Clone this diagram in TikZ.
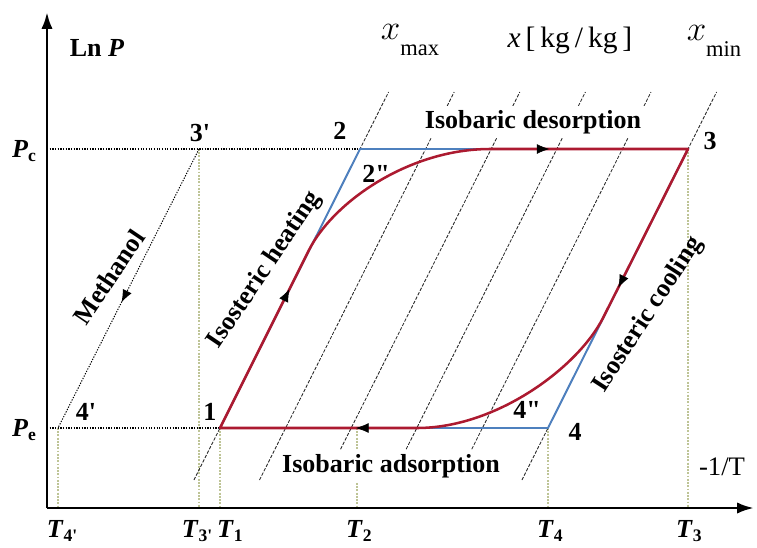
\documentclass[tikz,border=0pt]{standalone}
\usepackage{fontspec}
\setmainfont{Liberation Serif}
\usetikzlibrary{arrows.meta,decorations.markings,calc}
\definecolor{cyclered}{RGB}{172,26,48}
\definecolor{isoblue}{RGB}{78,128,190}
\definecolor{guidegreen}{RGB}{190,196,150}
\newcommand\lowsub[1]{\raisebox{-0.35ex}{\fontsize{12.5}{13}\selectfont #1}}

\begin{document}
\begin{tikzpicture}[x=0.025cm,y=-0.025cm,>=Latex,
  axis/.style={line width=2pt,-{Latex[length=12pt,width=8pt]}},
  lbl/.style={font=\fontsize{18.5}{20}\selectfont\bfseries,inner sep=1pt},
  isostere/.style={line width=0.6pt,dash pattern=on 2.4pt off 1.1pt,black!85},
  level/.style={line width=0.9pt,densely dotted},
  guide/.style={line width=1.3pt,densely dotted,guidegreen},
  blueline/.style={line width=1.4pt,isoblue},
  redline/.style={line width=1.8pt,cyclered,line join=round},
  arrowat/.style={postaction={decorate,decoration={markings,
    mark=at position #1 with {\arrow[black]{Latex[length=9pt,width=7pt]}}}}}]
  \useasboundingbox (0,0) rectangle (757,547);

  % corners of the cycle
  \coordinate (p1) at (220,428);
  \coordinate (p2) at (360,149);
  \coordinate (p3) at (688,149);
  \coordinate (p4) at (548,428);
  \coordinate (p3m) at (199,149);
  \coordinate (p4m) at (58,428);
  \coordinate (q2) at (357,428);
  % where the real cycle leaves the ideal one
  \coordinate (h1) at (309,250);
  \coordinate (d1) at (490,149);
  \coordinate (c1) at (603,318);
  \coordinate (a1) at (417,428);
  % axes
  \coordinate (o) at (47,508);
  \coordinate (ytop) at (47,12);
  \coordinate (xend) at (754,508);

  % guide lines down to the axis
  \foreach \pt in {p4m,p3m,p1,q2,p4,p3}
    \draw[guide] (\pt) -- (\pt |- o);

  % pressure levels
  \draw[level] (o |- p3) -- (p3);
  \draw[level] (o |- p1) -- (p1);

  % isosteres
  \foreach \i in {0,...,5}
    \draw[isostere] ({193.9+65.6*\i},480) -- ({388.6+65.6*\i},92);

  % methanol line
  \draw[level,line width=0.7pt,arrowat=0.55] (p3m) -- (p4m);

  % ideal cycle
  \draw[blueline] (p1) -- (p2) -- (p3) -- (p4) -- cycle;

  % real cycle
  \draw[redline] (p1) -- (h1) .. controls (334,201) and (410,149) .. (d1)
    -- (p3) -- (c1) .. controls (578,367) and (497,428) .. (a1) -- cycle;
  \path[arrowat=0.78] (p1) -- (h1);
  \path[arrowat=0.3] (d1) -- (p3);
  \path[arrowat=0.82] (p3) -- (c1);
  \path[arrowat=0.31] (a1) -- (p1);

  % axes
  \draw[axis] (o) -- (ytop);
  \draw[axis] (o) -- (xend);

  % axis labels
  \node[lbl] (lnp) at (97,48) {Ln \textit{P}};
  \node[lbl] (pc) at (24,151) {\textit{P}\lowsub{c}};
  \node[lbl] (pe) at (24,430) {\textit{P}\lowsub{e}};
  \node[font=\fontsize{19}{20}\selectfont] (invt) at (722,467) {-1/T};
  \node[lbl] (t4m) at (62,531) {\textit{T}\lowsub{4\textquotesingle}};
  \node[lbl] (t3m) at (197,531) {\textit{T}\lowsub{3\textquotesingle}};
  \node[lbl] (t1) at (230,531) {\textit{T}\lowsub{1}};
  \node[lbl] (t2) at (359,531) {\textit{T}\lowsub{2}};
  \node[lbl] (t4) at (550,531) {\textit{T}\lowsub{4}};
  \node[lbl] (t3) at (689,531) {\textit{T}\lowsub{3}};

  % concentration labels
  \node[font=\fontsize{27}{29}\selectfont] (xmax) at (410,40)
    {$x$\raisebox{-0.9ex}{\fontsize{16}{17}\selectfont max}};
  \node[font=\fontsize{21}{23}\selectfont] (xkg) at (570,40)
    {\textit{x}\,[\,kg\,/\,kg\,]};
  \node[font=\fontsize{27}{29}\selectfont] (xmin) at (714,41)
    {$x$\raisebox{-0.9ex}{\fontsize{16}{17}\selectfont min}};

  % state points
  \node[lbl] (l1) at (210,412) {1};
  \node[lbl] (l2) at (340,131) {2};
  \node[lbl] (l3) at (710,141) {3};
  \node[lbl] (l4) at (575,432) {4};
  \node[lbl] (l3m) at (200,133) {3\textquotesingle};
  \node[lbl] (l4m) at (86,412) {4\textquotesingle};
  \node[lbl] (l2mm) at (376,174) {2\textquotedbl};
  \node[lbl] (l4mm) at (527,410) {4\textquotedbl};

  % processes
  \node[lbl,fill=white,inner sep=3pt] (desorp) at (533,122) {Isobaric desorption};
  \node[lbl,fill=white,inner sep=3pt] (adsorp) at (391,466) {Isobaric adsorption};
  \node[lbl,rotate=56] (heat) at (265,270) {Isosteric heating};
  \node[lbl,rotate=57] (cool) at (648,315) {Isosteric cooling};
  \node[lbl,rotate=56] (meth) at (109,277) {Methanol};
\end{tikzpicture}
\end{document}
